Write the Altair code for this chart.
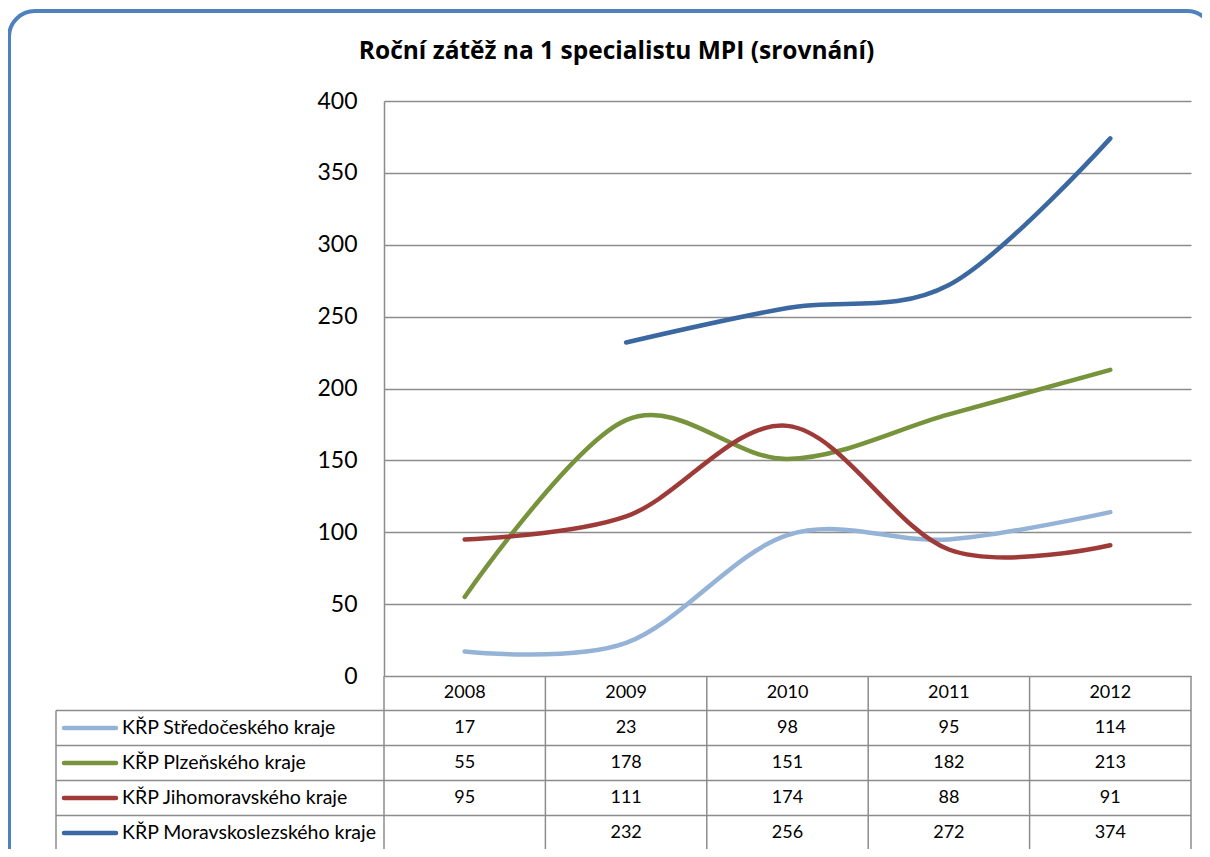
import altair as alt
import pandas as pd

# ---- data ----
years = ["2008", "2009", "2010", "2011", "2012"]
series = [
    "KŘP Středočeského kraje",
    "KŘP Plzeňského kraje",
    "KŘP Jihomoravského kraje",
    "KŘP Moravskoslezského kraje",
]
stred = [17, 23, 98, 95, 114]
plzen = [55, 178, 151, 182, 213]
jihom = [95, 111, 174, 88, 91]
morav = [None, 232, 256, 272, 374]
colors = ["#95B3D7", "#77933C", "#9E3B38", "#3B68A0"]
title_text = "Roční zátěž na 1 specialistu MPI (srovnání)"

rows = []
for s, vals in zip(series, [stred, plzen, jihom, morav]):
    for yr, v in zip(years, vals):
        rows.append({"year": yr, "series": s, "value": v})
df = pd.DataFrame(rows)
ydf = pd.DataFrame({"year": years})
one = pd.DataFrame({"a": [0]})

# ---- layout ----
W, H = 807, 575
FONT = "Lato"
GRID = "#8C8C8C"
row_lines = [609.5, 644.5, 679.5, 714.5, 749.5]
row_centers = [627, 662, 697, 732]
LEFT = -328


def xenc(bp):
    return alt.X(
        "year:N",
        sort=years,
        scale=alt.Scale(type="band", domain=years, paddingInner=0, paddingOuter=0),
        axis=None,
        bandPosition=bp,
    )


layers = []

# outer rounded border
layers.append(
    alt.Chart(one).mark_rect(fill="transparent", stroke="#4F81BD", strokeWidth=4, cornerRadius=26).encode(
        x=alt.value(-375), x2=alt.value(W + 22), y=alt.value(-90), y2=alt.value(H + 260)
    )
)

# lines
lines = (
    alt.Chart(df)
    .transform_filter("isValid(datum.value)")
    .mark_line(interpolate="cardinal", strokeWidth=4.5, strokeCap="round", strokeJoin="round")
    .encode(
        x=xenc(0.5),
        y=alt.Y(
            "value:Q",
            scale=alt.Scale(domain=[0, 400]),
            axis=alt.Axis(
                values=list(range(0, 401, 50)),
                grid=True,
                gridColor=GRID,
                gridWidth=1.3,
                domainColor=GRID,
                domainWidth=1.5,
                ticks=False,
                labelFontSize=23,
                labelFont=FONT,
                labelColor="black",
                labelPadding=27,
                title=None,
            ),
        ),
        color=alt.Color("series:N", scale=alt.Scale(domain=series, range=colors), legend=None),
        order=alt.Order("series:N"),
    )
)
layers.append(lines)

# table grid: vertical lines
layers.append(
    alt.Chart(ydf).mark_rule(color=GRID, strokeWidth=1.5).encode(
        x=xenc(0), y=alt.value(H), y2=alt.value(row_lines[-1])
    )
)
layers.append(
    alt.Chart(one).mark_rule(color=GRID, strokeWidth=1.5).encode(
        x=alt.value(W), y=alt.value(H), y2=alt.value(row_lines[-1])
    )
)
layers.append(
    alt.Chart(one).mark_rule(color=GRID, strokeWidth=1.5).encode(
        x=alt.value(LEFT), y=alt.value(row_lines[0]), y2=alt.value(row_lines[-1])
    )
)
# horizontal lines
for yy in row_lines:
    layers.append(
        alt.Chart(one).mark_rule(color=GRID, strokeWidth=1.5).encode(
            x=alt.value(LEFT), x2=alt.value(W), y=alt.value(yy)
        )
    )

# header years
layers.append(
    alt.Chart(ydf).mark_text(font=FONT, fontSize=18, color="black", baseline="middle").encode(
        x=xenc(0.5), y=alt.value(592), text="year:N"
    )
)

# rows
for i, s in enumerate(series):
    ry = row_centers[i]
    layers.append(
        alt.Chart(df)
        .transform_filter(alt.datum.series == s)
        .transform_filter("isValid(datum.value)")
        .mark_text(font=FONT, fontSize=18, color="black", baseline="middle")
        .encode(x=xenc(0.5), y=alt.value(ry), text="value:Q")
    )
    layers.append(
        alt.Chart(pd.DataFrame({"series": [s]})).mark_rule(
            color=colors[i], strokeWidth=4.5, strokeCap="round"
        ).encode(x=alt.value(-320), x2=alt.value(-268), y=alt.value(ry))
    )
    layers.append(
        alt.Chart(pd.DataFrame({"series": [s]})).mark_text(
            font=FONT, fontSize=19.5, color="black", baseline="middle", align="left"
        ).encode(x=alt.value(-262), y=alt.value(ry), text="series:N")
    )

# title
layers.append(
    alt.Chart(one).mark_text(
        text=title_text, font="Open Sans", fontSize=24.5, fontWeight="bold", color="black",
        align="center", baseline="alphabetic"
    ).encode(x=alt.value(232.5), y=alt.value(-42))
)

chart = (
    alt.layer(*layers)
    .properties(
        width=W,
        height=H,
        autosize="none",
        padding={"left": 376, "top": 93, "right": 11, "bottom": 173},
        background="white",
    )
    .configure_view(strokeWidth=0)
)

chart.save("out.html", embed_options={"renderer": "svg", "actions": False})
